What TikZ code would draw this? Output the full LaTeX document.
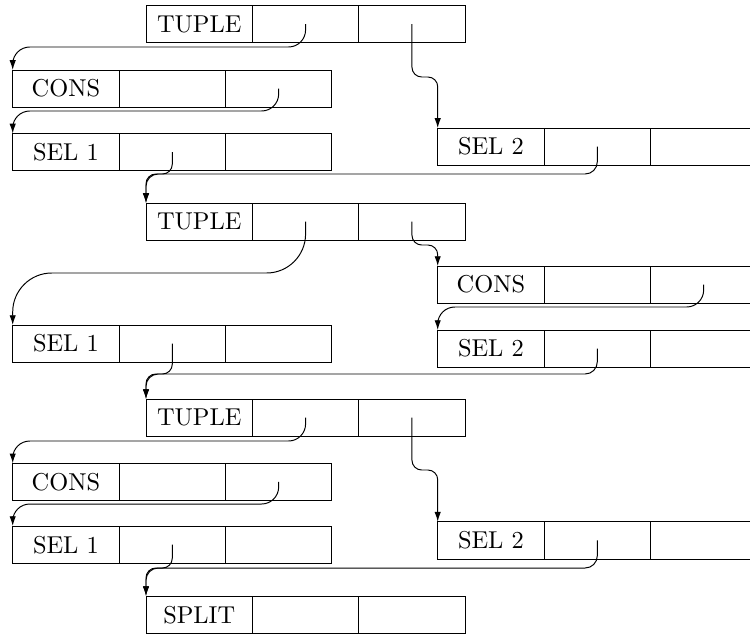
\documentclass[tikz,border=0pt]{standalone}
\usetikzlibrary{arrows.meta}
\newcommand\recordbox[4]{%
  \node[cell] (#1a) at (#2,#3) {#4};
  \node[cell] (#1b) at (#1a.north east) {};
  \node[cell] (#1c) at (#1b.north east) {};
}
\begin{document}
\begin{tikzpicture}[x=0.41pt,y=-0.41pt,
  cell/.style={draw, line width=0.4pt, minimum width=43.62pt, minimum height=15.3pt,
    inner sep=0pt, outer sep=0pt, anchor=north west},
  link/.style={draw, line width=0.4pt, -{Latex[length=4pt,width=2.6pt]}},
]
\useasboundingbox (0,0) rectangle (750,635);
\clip (0,0) rectangle (750,635);

\recordbox{T1}{146}{5.5}{TUPLE}
\recordbox{C1}{12.7}{70}{CONS}
\recordbox{L1}{12.7}{133.5}{SEL 1}
\recordbox{R1}{437.7}{128}{SEL 2}
\recordbox{T2}{146}{203}{TUPLE}
\recordbox{C2}{437.7}{266}{CONS}
\recordbox{L2}{12.7}{325}{SEL 1}
\recordbox{R2}{437.7}{330}{SEL 2}
\recordbox{T3}{146}{399}{TUPLE}
\recordbox{C3}{12.7}{463.3}{CONS}
\recordbox{L3}{12.7}{526}{SEL 1}
\recordbox{R3}{437.7}{521.7}{SEL 2}
\recordbox{SP}{146}{596}{SPLIT}

\draw[link, rounded corners=7pt] (T1b.center) |- (C1a.north west |- 0,47) -- (C1a.north west);
\draw[link, rounded corners=4pt] (T1c.center) |- (R1a.north west |- 0,77) -- (R1a.north west);
\draw[link, rounded corners=7pt] (C1c.center) |- (L1a.north west |- 0,111) -- (L1a.north west);
\draw[link, rounded corners=4pt] (L1b.center) |- (T2a.north west |- 0,174) -- (T2a.north west);
\draw[link, rounded corners=5pt] (R1b.center) |- (T2a.north west |- 0,174) -- (T2a.north west);

\draw[link, rounded corners=16pt] (T2b.center) |- (L2a.north west |- 0,273) -- (L2a.north west);
\draw[link, rounded corners=4pt] (T2c.center) |- (C2a.north west |- 0,245) -- (C2a.north west);
\draw[link, rounded corners=7pt] (C2c.center) |- (R2a.north west |- 0,307) -- (R2a.north west);
\draw[link, rounded corners=4pt] (L2b.center) |- (T3a.north west |- 0,374) -- (T3a.north west);
\draw[link, rounded corners=5pt] (R2b.center) |- (T3a.north west |- 0,374) -- (T3a.north west);

\draw[link, rounded corners=7pt] (T3b.center) |- (C3a.north west |- 0,441) -- (C3a.north west);
\draw[link, rounded corners=4pt] (T3c.center) |- (R3a.north west |- 0,470) -- (R3a.north west);
\draw[link, rounded corners=7pt] (C3c.center) |- (L3a.north west |- 0,504) -- (L3a.north west);
\draw[link, rounded corners=4pt] (L3b.center) |- (SPa.north west |- 0,568) -- (SPa.north west);
\draw[link, rounded corners=5pt] (R3b.center) |- (SPa.north west |- 0,568) -- (SPa.north west);
\end{tikzpicture}
\end{document}
